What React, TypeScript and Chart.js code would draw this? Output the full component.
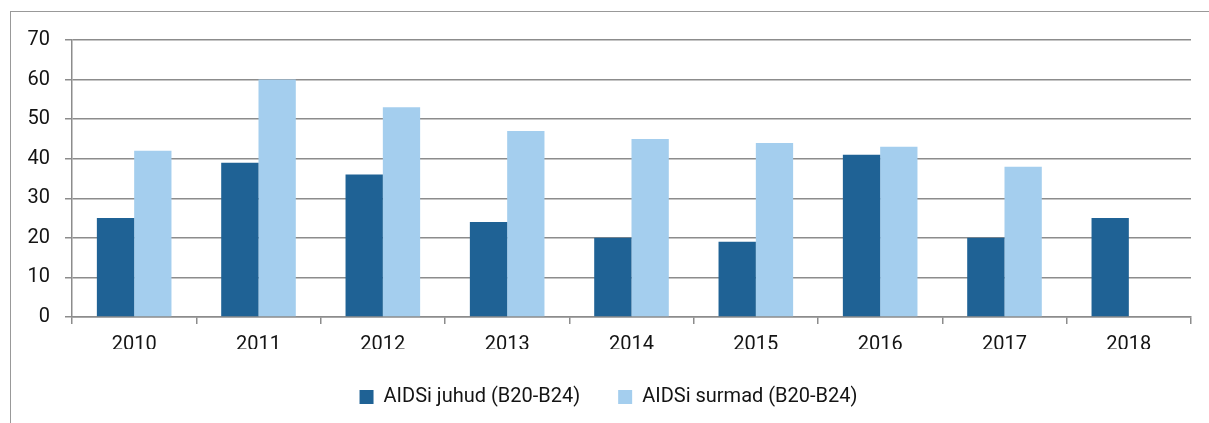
import React, { useEffect, useRef } from "react";
import { Chart, registerables } from "chart.js";

Chart.register(...registerables);

const categories = ["2010", "2011", "2012", "2013", "2014", "2015", "2016", "2017", "2018"];
const cases = [25, 39, 36, 24, 20, 19, 41, 20, 25];
const deaths: (number | null)[] = [42, 60, 53, 47, 45, 44, 43, 38, null];
const seriesNames = ["AIDSi juhud (B20-B24)", "AIDSi surmad (B20-B24)"];

const DARK = "#1f6295";
const LIGHT = "#a4ceee";
const GRID = "#8c8c8c";
const TEXT = "#141414";
const FONT = "Roboto";

export default function App() {
  const ref = useRef<HTMLCanvasElement | null>(null);

  useEffect(() => {
    if (!ref.current) return;
    const chart = new Chart(ref.current, {
      type: "bar",
      data: {
        labels: categories,
        datasets: [
          {
            label: seriesNames[0],
            data: cases,
            backgroundColor: DARK,
            borderWidth: 0,
            categoryPercentage: 0.6,
            barPercentage: 1,
          },
          {
            label: seriesNames[1],
            data: deaths,
            backgroundColor: LIGHT,
            borderWidth: 0,
            categoryPercentage: 0.6,
            barPercentage: 1,
          },
        ],
      },
      options: {
        animation: false,
        responsive: true,
        maintainAspectRatio: false,
        layout: { padding: { left: 26, right: 18, top: 40, bottom: 6 } },
        plugins: {
          tooltip: { enabled: false },
          legend: {
            position: "bottom",
            labels: {
              boxWidth: 14,
              boxHeight: 14,
              padding: 38,
              color: TEXT,
              font: { family: FONT, size: 20 },
            },
          },
        },
        scales: {
          x: {
            afterFit: (s: any) => {
              s.height = 32;
            },
            grid: {
              drawOnChartArea: false,
              drawTicks: true,
              tickLength: 7,
              color: GRID,
              lineWidth: 1.5,
              offset: true,
            },
            border: { color: GRID, width: 1.5 },
            ticks: {
              color: TEXT,
              font: { family: FONT, size: 20 },
              padding: 9,
              maxRotation: 0,
            },
          },
          y: {
            min: 0,
            max: 70,
            afterFit: (s: any) => {
              s.width = 46;
            },
            grid: {
              color: GRID,
              lineWidth: 1.5,
              drawTicks: true,
              tickLength: 7,
            },
            border: { color: GRID, width: 1.5 },
            ticks: {
              stepSize: 10,
              color: TEXT,
              font: { family: FONT, size: 20 },
              padding: 15,
            },
          },
        },
      },
    });
    return () => chart.destroy();
  }, []);

  return (
    <div style={{ position: "absolute", left: 0, top: 0, width: 1209, height: 423, background: "#fff" }}>
      <div
        style={{
          position: "absolute",
          left: 10,
          top: 11,
          right: 0,
          bottom: 0,
          borderLeft: "1px solid #999",
          borderTop: "1px solid #999",
        }}
      />
      <canvas ref={ref} style={{ position: "absolute", left: 0, top: 0 }} />
    </div>
  );
}
